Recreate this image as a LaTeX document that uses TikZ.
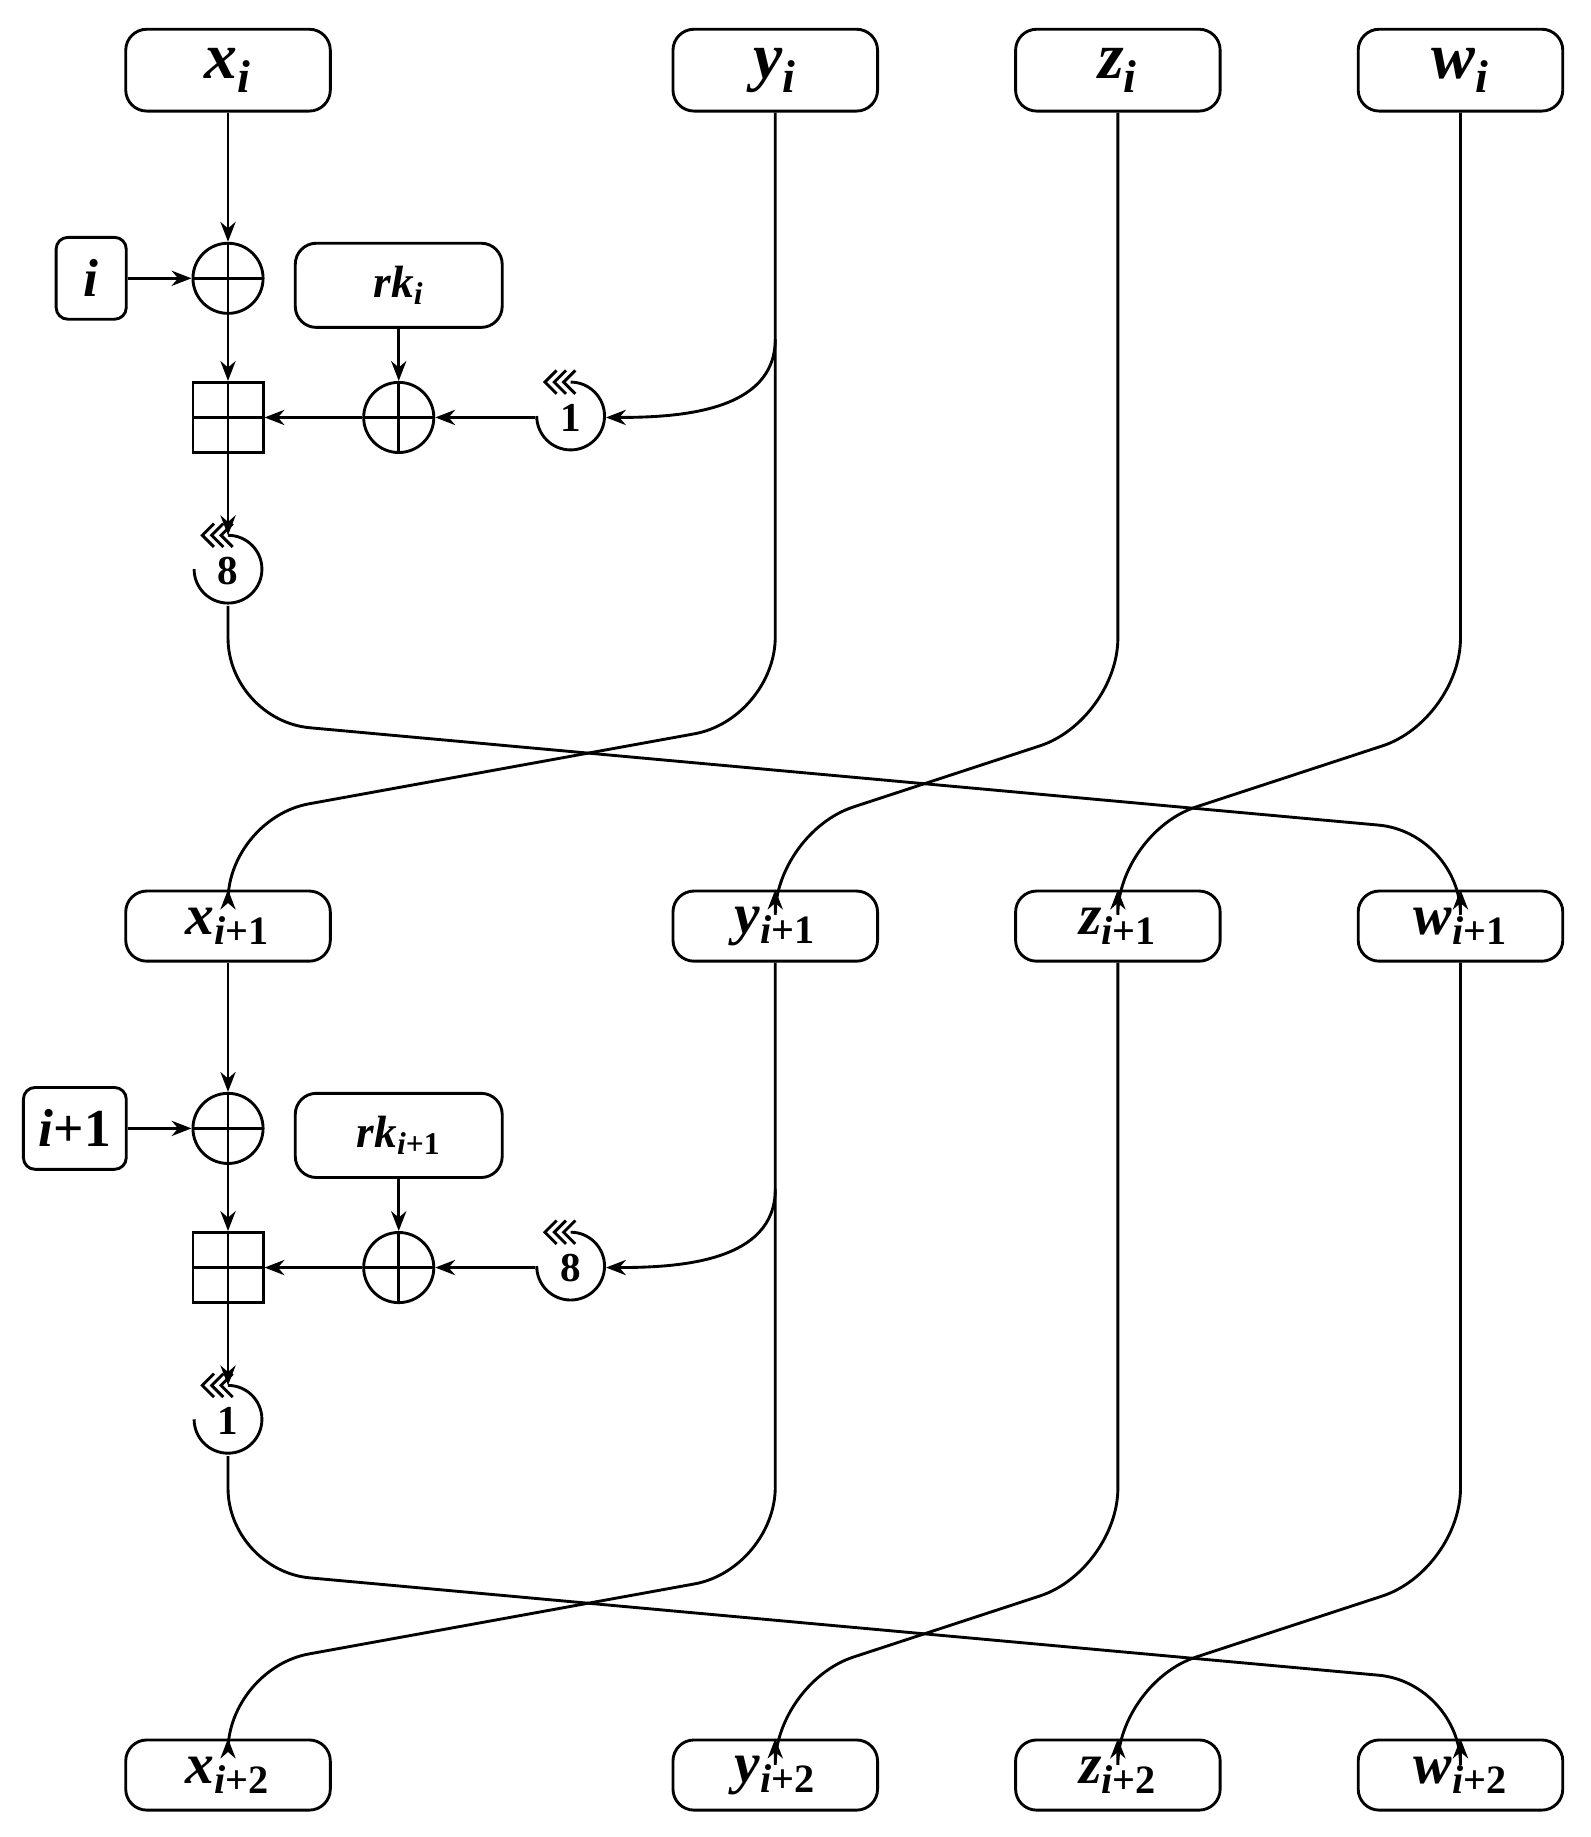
\documentclass[tikz,border=0pt]{standalone}
\usepackage{fontspec}
\setmainfont{Liberation Serif}
\usetikzlibrary{arrows.meta}
\newcommand{\lab}[3]{\bfseries\itshape #1\textsubscript{\itshape #2\upshape #3}}
\begin{document}
\begin{tikzpicture}[x=0.02cm,y=0.02cm,line width=1.4pt,
  >={Stealth[length=0.34cm,width=0.26cm]}]
  \tikzstyle{word}=[draw, rounded corners=0.36cm, minimum width=3.5cm, minimum height=1.2cm, inner sep=0pt,
    font=\fontsize{28}{30}\selectfont]
  \tikzstyle{top}=[word, minimum height=1.4cm, font=\fontsize{32}{34}\selectfont]
  \tikzstyle{cnt}=[draw, rounded corners=0.2cm, minimum height=1.4cm, inner sep=0pt,
    font=\fontsize{26}{28}\selectfont\bfseries\itshape]
  \tikzstyle{key}=[draw, rounded corners=0.36cm, minimum width=3.54cm, minimum height=1.44cm, inner sep=0pt,
    font=\fontsize{22}{24}\selectfont]
  \tikzstyle{xor}=[draw, circle, minimum size=1.2cm, inner sep=0pt,
    path picture={\draw (path picture bounding box.north) -- (path picture bounding box.south)
      (path picture bounding box.west) -- (path picture bounding box.east);}]
  \tikzstyle{add}=[draw, rectangle, minimum size=1.2cm, inner sep=0pt,
    path picture={\draw (path picture bounding box.north) -- (path picture bounding box.south)
      (path picture bounding box.west) -- (path picture bounding box.east);}]
  \tikzstyle{rot}=[circle, minimum size=1.16cm, inner sep=0pt, font=\fontsize{20}{22}\selectfont\bfseries]
  \newcommand{\rotsym}[1]{%
    \draw (#1.north) arc[start angle=90,end angle=-180,radius=0.58cm];
    \foreach \t in {-0.44,-0.28,-0.12}
      \draw ([shift={(\t cm+0.2cm,0.2cm)}]#1.north) -- ([shift={(\t cm,0)}]#1.north) -- ([shift={(\t cm+0.2cm,-0.2cm)}]#1.north);}

  \useasboundingbox (0,0) rectangle (1360,-1571);

  %----- words
  \node[top] (x0) at (195,-60) {\lab{x}{i}{}};
  \node[top] (y0) at (663,-60) {\lab{y}{i}{}};
  \node[top] (z0) at (956,-60) {\lab{z}{i}{}};
  \node[top] (w0) at (1249,-60) {\lab{w}{i}{}};
  \node[word] (x1) at (195,-792) {\lab{x}{i}{+1}};
  \node[word] (y1) at (663,-792) {\lab{y}{i}{+1}};
  \node[word] (z1) at (956,-792) {\lab{z}{i}{+1}};
  \node[word] (w1) at (1249,-792) {\lab{w}{i}{+1}};
  \node[word] (x2) at (195,-1518) {\lab{x}{i}{+2}};
  \node[word] (y2) at (663,-1518) {\lab{y}{i}{+2}};
  \node[word] (z2) at (956,-1518) {\lab{z}{i}{+2}};
  \node[word] (w2) at (1249,-1518) {\lab{w}{i}{+2}};

  %----- round i
  \node[cnt, minimum width=1.2cm] (c1) at (78,-238) {i};
  \node[xor] (a1) at (195,-238) {};
  \node[key] (k1) at (341,-244) {\lab{rk}{i}{}};
  \node[xor] (b1) at (341,-357) {};
  \node[add] (m1) at (195,-357) {};
  \node[rot] (ry1) at (488,-357) {1};
  \node[rot] (rx1) at (195,-488) {8};
  \coordinate (t1) at (663,-290);
  \rotsym{ry1} \rotsym{rx1}

  \draw[->] (x0) -- (a1);
  \draw[->] (c1) -- (a1);
  \draw[->] (a1) -- (m1);
  \draw[->] (k1) -- (b1);
  \draw[->] (b1) -- (m1);
  \draw[->] (ry1.west) -- (b1);
  \draw[->] (m1) -- (rx1.north);
  \draw[->] (t1) to[out=-90,in=0] (ry1.east);

  \draw[->,rounded corners=40] (y0.south) -- (663,-615) -- (195,-700) -- (x1.north);
  \draw[->,rounded corners=40] (rx1.south) -- (195,-616) -- (1249,-712) -- (w1.north);
  \draw[->,rounded corners=40] (z0.south) -- (956,-616) -- (663,-712) -- (y1.north);
  \draw[->,rounded corners=40] (w0.south) -- (1249,-616) -- (956,-712) -- (z1.north);

  %----- round i+1
  \node[cnt, minimum width=1.76cm] (c2) at (64,-965) {i\upshape+1};
  \node[xor] (a2) at (195,-965) {};
  \node[key] (k2) at (341,-971) {\lab{rk}{i}{+1}};
  \node[xor] (b2) at (341,-1084) {};
  \node[add] (m2) at (195,-1084) {};
  \node[rot] (ry2) at (488,-1084) {8};
  \node[rot] (rx2) at (195,-1215) {1};
  \coordinate (t2) at (663,-1017);
  \rotsym{ry2} \rotsym{rx2}

  \draw[->] (x1) -- (a2);
  \draw[->] (c2) -- (a2);
  \draw[->] (a2) -- (m2);
  \draw[->] (k2) -- (b2);
  \draw[->] (b2) -- (m2);
  \draw[->] (ry2.west) -- (b2);
  \draw[->] (m2) -- (rx2.north);
  \draw[->] (t2) to[out=-90,in=0] (ry2.east);

  \draw[->,rounded corners=40] (y1.south) -- (663,-1342) -- (195,-1427) -- (x2.north);
  \draw[->,rounded corners=40] (rx2.south) -- (195,-1343) -- (1249,-1439) -- (w2.north);
  \draw[->,rounded corners=40] (z1.south) -- (956,-1343) -- (663,-1439) -- (y2.north);
  \draw[->,rounded corners=40] (w1.south) -- (1249,-1343) -- (956,-1439) -- (z2.north);
\end{tikzpicture}
\end{document}
